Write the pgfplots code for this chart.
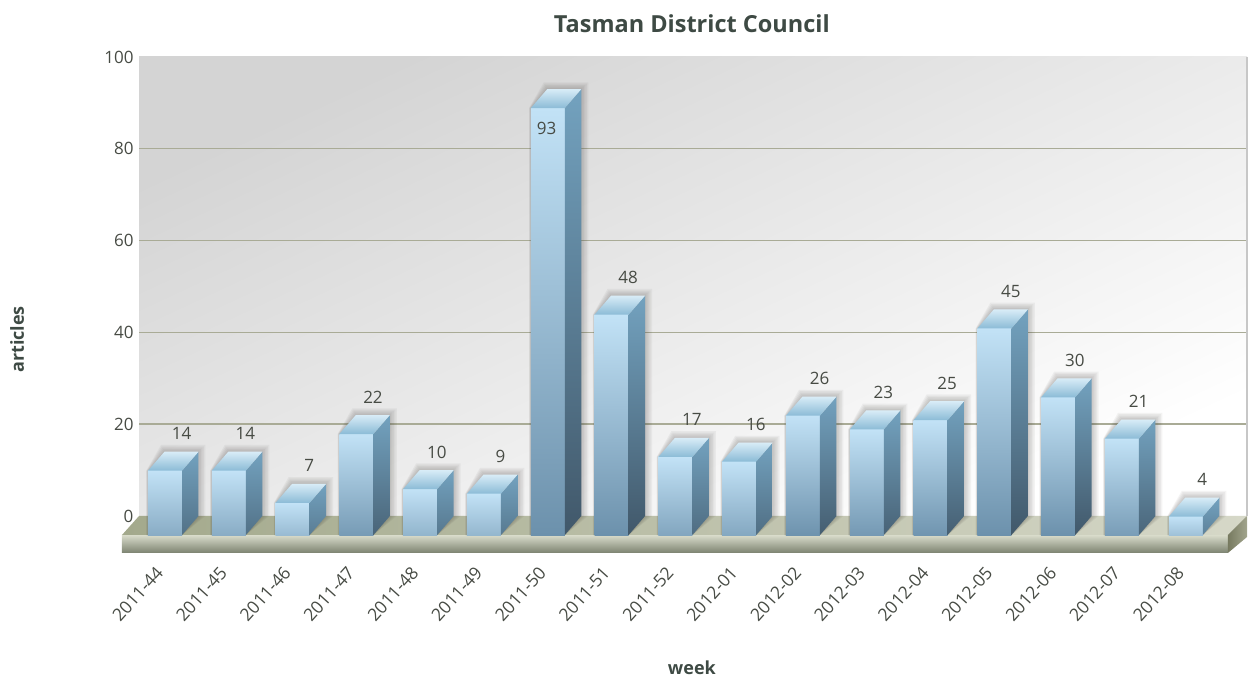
\documentclass[border=0pt]{standalone}
\usepackage{fontspec}
\setmainfont{Open Sans}
\usepackage{pgfplots}
\pgfplotsset{compat=1.18}
\definecolor{txt}{HTML}{474B44}
\definecolor{ttl}{HTML}{3E4A44}
\definecolor{gridc}{HTML}{A9AB96}
\definecolor{flight}{HTML}{C2E2F6}
\definecolor{fdark}{HTML}{6C91AC}
\definecolor{slight}{HTML}{73A2BF}
\definecolor{sdark}{HTML}{41586A}
\definecolor{tlight}{HTML}{D8ECF7}
\definecolor{tdark}{HTML}{8BBBD6}
\definecolor{flA}{HTML}{A3A98C}
\definecolor{flB}{HTML}{D6D8C8}
\definecolor{slA}{HTML}{D9DCCB}
\definecolor{slB}{HTML}{B6BBA5}
\definecolor{slC}{HTML}{7C8270}
\definecolor{siA}{HTML}{777A60}
\definecolor{siB}{HTML}{A2A58D}
\definecolor{shc}{HTML}{3A3632}
\newcommand\shadowlayer[3]{%
  \pgfmathsetmacro\ex{#1/63.8}%
  \pgfmathsetmacro\ey{#1/4.59}%
  \pgfmathsetmacro\axl{#2-0.2665-\ex*0.25}%
  \pgfmathsetmacro\axbl{#2-0.2665+0.2586-\ex*0.5}%
  \pgfmathsetmacro\axbr{#2+0.2665+0.2586+\ex}%
  \pgfmathsetmacro\axf{#2+0.2665}%
  \pgfmathsetmacro\ayt{#3+\ey*0.9+0.1}%
  \pgfmathsetmacro\ayf{#3-4.14}%
  \addplot[draw=none, fill=shc, fill opacity=0.055] coordinates
    {(\axl,-4.14) (\axl,\ayf) (\axbl,\ayt) (\axbr,\ayt) (\axbr,0) (\axf,-4.14)} --cycle;
}
\newcommand\tdbar[2]{%
  \pgfmathsetmacro\xl{#1-0.2665}%
  \pgfmathsetmacro\xr{#1+0.2665}%
  \pgfmathsetmacro\xbl{#1-0.2665+0.2586}%
  \pgfmathsetmacro\xbr{#1+0.2665+0.2586}%
  \pgfmathsetmacro\yf{#2-4.14}%
  \pgfmathsetmacro\yb{#2}%
  \pgfmathsetmacro\tf{min(100,30+2.6*#2)}%
  \pgfmathsetmacro\ts{min(100,35+2.2*#2)}%
  \colorlet{fb#1}{fdark!\tf!flight}%
  \colorlet{sb#1}{sdark!\ts!slight}%
  \shadowlayer{7}{#1}{#2}\shadowlayer{5.5}{#1}{#2}\shadowlayer{4}{#1}{#2}\shadowlayer{2.5}{#1}{#2}\shadowlayer{1}{#1}{#2}%
  \addplot[draw=none, shade, top color=flight, bottom color=fb#1] coordinates
    {(\xl,-4.14) (\xl,\yf) (\xr,\yf) (\xr,-4.14)} --cycle;
  \addplot[draw=none, shade, top color=slight, bottom color=sb#1] coordinates
    {(\xr,-4.14) (\xr,\yf) (\xbr,\yb) (\xbr,0)} --cycle;
  \addplot[draw=none, shade, shading angle=-40, top color=tlight, bottom color=tdark] coordinates
    {(\xl,\yf) (\xbl,\yb) (\xbr,\yb) (\xr,\yf)} --cycle;
}
\begin{document}
\begin{tikzpicture}
\path[use as bounding box] (0,0) rectangle (1253pt,677pt);
\begin{axis}[
  at={(139pt,161pt)}, anchor=south west,
  scale only axis, width=1108pt, height=459pt,
  xmin=-0.4075, xmax=16.96, ymin=0, ymax=100,
  clip=false,
  axis line style={draw=none},
  tick style={draw=none},
  axis background/.style={shade, top color=black!17, bottom color=white, shading angle=25},
  xtick={0,...,16},
  xticklabels={2011-44,2011-45,2011-46,2011-47,2011-48,2011-49,2011-50,2011-51,2011-52,2012-01,2012-02,2012-03,2012-04,2012-05,2012-06,2012-07,2012-08},
  ytick={0,20,40,60,80,100},
  extra y ticks={20,40,60,80},
  extra y tick labels={},
  extra y tick style={grid=major, major grid style={draw=gridc, line width=1.4pt}},
  /pgf/number format/assume math mode=true,
  yticklabel style={font=\fontsize{17}{20}\selectfont, text=txt, anchor=east, xshift=-2pt},
  xticklabel style={font=\fontsize{17.5}{20}\selectfont, text=txt, xshift=-3pt, yshift=-51pt, rotate=48, anchor=east},
  title={Tasman District Council},
  every axis title shift=0pt,
  title style={at={(axis description cs:0.499,1.072)}, anchor=center, font=\fontsize{23.5}{28}\selectfont\bfseries, text=ttl},
  xlabel={week},
  every axis x label/.style={at={(axis description cs:0.499,-0.331)}, anchor=center, font=\fontsize{18}{21}\selectfont\bfseries, text=ttl},
  ylabel={articles},
  every axis y label/.style={at={(axis description cs:-0.110,0.3845)}, anchor=center, rotate=90, font=\fontsize{18}{21}\selectfont\bfseries, text=ttl},
]
% right edge of the wall
\addplot[draw=black!22, line width=1.6pt] coordinates {(16.96,0) (16.96,100)};
% floor
\addplot[draw=none, shade, left color=flA, right color=flB] coordinates
  {(-0.4075,0) (16.96,0) (16.66,-4.14) (-0.674,-4.14)} --cycle;
\addplot[draw=none, shade, top color=slA, middle color=slB, bottom color=slC] coordinates
  {(-0.674,-4.14) (16.66,-4.14) (16.66,-8.06) (-0.674,-8.06)} --cycle;
\addplot[draw=none, shade, left color=siA, right color=siB] coordinates
  {(16.66,-4.14) (16.96,0) (16.96,-4.58) (16.66,-8.06)} --cycle;
% bars
\tdbar{0}{14}
\tdbar{1}{14}
\tdbar{2}{7}
\tdbar{3}{22}
\tdbar{4}{10}
\tdbar{5}{9}
\tdbar{6}{93}
\tdbar{7}{48}
\tdbar{8}{17}
\tdbar{9}{16}
\tdbar{10}{26}
\tdbar{11}{23}
\tdbar{12}{25}
\tdbar{13}{45}
\tdbar{14}{30}
\tdbar{15}{21}
\tdbar{16}{4}
% value labels
\addplot[draw=none, mark=none, point meta=explicit symbolic, nodes near coords,
  every node near coord/.style={anchor=center, font=\fontsize{17}{20}\selectfont, text=txt}]
  coordinates {
  (0.26,17.94)[14] (1.26,17.94)[14] (2.26,10.94)[7] (3.26,25.94)[22] (4.26,13.94)[10]
  (5.26,12.94)[9] (5.98,84.4)[93] (7.26,51.94)[48] (8.26,20.94)[17] (9.26,19.94)[16]
  (10.26,29.94)[26] (11.26,26.94)[23] (12.26,28.94)[25] (13.26,48.94)[45]
  (14.26,33.94)[30] (15.26,24.94)[21] (16.26,7.94)[4]};
\end{axis}
\end{tikzpicture}
\end{document}
